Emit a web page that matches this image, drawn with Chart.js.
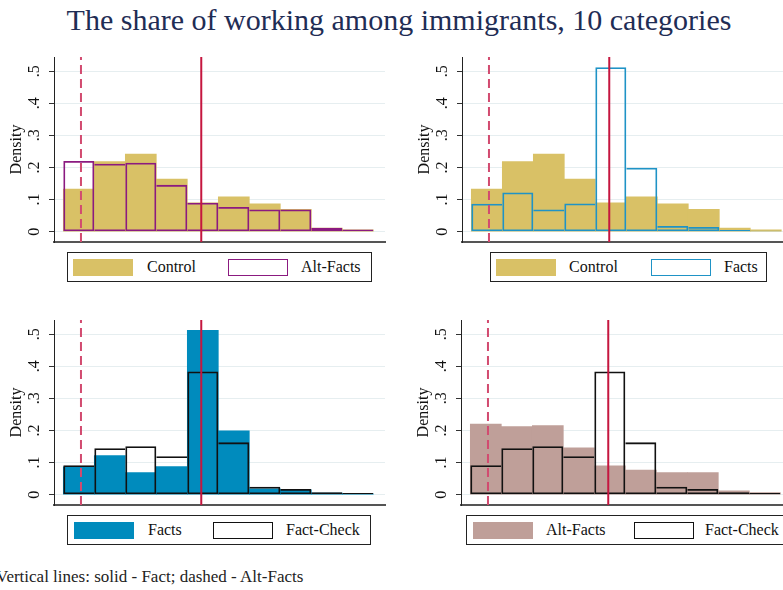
<!DOCTYPE html>
<html>
<head>
<meta charset="utf-8">
<script src="https://cdn.jsdelivr.net/npm/chart.js@4.4.0/dist/chart.umd.min.js"></script>
<style>
  body { margin: 0; width: 783px; height: 590px; overflow: hidden; background: #fff; position: relative;
         font-family: "Liberation Serif", "Times New Roman", serif; }
  canvas { position: absolute; }
  #title { position: absolute; top: 5px; left: 399px; transform: translateX(-50%); white-space: nowrap;
           font-size: 30px; line-height: 30px; color: #1f2d55; }
  .legend { position: absolute; height: 30px; border: 1px solid #222; box-sizing: border-box; background: #fff; }
  .legend .sw { position: absolute; top: 6px; width: 60px; height: 17px; box-sizing: border-box; }
  .legend .lb { position: absolute; top: 6px; font-size: 16px; line-height: 16px; color: #111; white-space: nowrap; }
  #note { position: absolute; left: -4px; top: 568px; font-size: 17px; line-height: 17px; color: #222; white-space: nowrap; }
</style>
</head>
<body>
<div id="title">The share of working among immigrants, 10 categories</div>
<canvas id="c0" width="390" height="196" style="left:0px;top:50px"></canvas>
<canvas id="c1" width="390" height="196" style="left:408px;top:50px"></canvas>
<canvas id="c2" width="390" height="196" style="left:0px;top:313px"></canvas>
<canvas id="c3" width="390" height="196" style="left:407px;top:313px"></canvas>
<div id="note">Vertical lines: solid - Fact; dashed - Alt-Facts</div>

<script>
// share of working, 10 bins (bin centres)
const binCenters = [0.05, 0.15, 0.25, 0.35, 0.45, 0.55, 0.65, 0.75, 0.85, 0.95];

const controlDensity   = [0.133, 0.218, 0.242, 0.164, 0.090, 0.109, 0.087, 0.070, 0.011, 0.006];
const altFactsDensity  = [0.220, 0.212, 0.215, 0.146, 0.090, 0.077, 0.069, 0.069, 0.012, 0.007];
const factsDensity     = [0.087, 0.122, 0.069, 0.088, 0.512, 0.199, 0.018, 0.015, 0.005, 0.003];
const factCheckDensity = [0.092, 0.145, 0.151, 0.120, 0.384, 0.163, 0.025, 0.018, 0.008, 0.005];

const yTicks = [0, 0.1, 0.2, 0.3, 0.4, 0.5];
const yTickLabels = ["0", ".1", ".2", ".3", ".4", ".5"];

const factLine = 0.445;
const altFactsLine = 0.057;

const FONT = "'Liberation Serif', 'Times New Roman', serif";

const colors = {
  control: "#d9c166",
  factsFill: "#008bbd",
  altFactsFill: "#bf9f99",
  altFactsLine: "#8b1a80",
  factsLine: "#1f93c6",
  factCheckLine: "#111111",
  fact: "#c5163f",
  alt: "#d24b70"
};

const panels = [
  { canvas: "c0", fill: controlDensity, fillColor: colors.control, outline: altFactsDensity, outlineColor: colors.altFactsLine,
    labels: ["Control", "Alt-Facts"], legend: { left: 67, top: 252, width: 305, pos: [5, 79, 160, 233] } },
  { canvas: "c1", fill: controlDensity, fillColor: colors.control, outline: factsDensity, outlineColor: colors.factsLine,
    labels: ["Control", "Facts"], legend: { left: 490, top: 252, width: 277, pos: [5, 78, 160, 233] } },
  { canvas: "c2", fill: factsDensity, fillColor: colors.factsFill, outline: factCheckDensity, outlineColor: colors.factCheckLine,
    labels: ["Facts", "Fact-Check"], legend: { left: 67, top: 515, width: 304, pos: [6, 80, 145, 218] } },
  { canvas: "c3", fill: altFactsDensity, fillColor: colors.altFactsFill, outline: factCheckDensity, outlineColor: colors.factCheckLine,
    labels: ["Alt-Facts", "Fact-Check"], legend: { left: 466, top: 515, width: 325, pos: [6, 79, 167, 238] } }
];

const Y_MIN = -0.032, Y_MAX = 0.544;
const X_MIN = -0.030, X_MAX = 1.0377;

function outlineWidth(c) {
  const w = 1.8;
  const d = c.dataset.data;
  const i = c.dataIndex;
  const v = d[i].y;
  const prev = i > 0 ? d[i - 1].y : -1;
  const next = i < d.length - 1 ? d[i + 1].y : -1;
  return { top: w, bottom: w, left: v > prev ? w : 0, right: v >= next ? w : 0 };
}

function vline(x, color, dash) {
  return {
    type: "line",
    data: [{ x: x, y: Y_MIN }, { x: x, y: Y_MAX }],
    borderColor: color,
    borderWidth: 2,
    borderDash: dash,
    pointRadius: 0,
    order: 0
  };
}

function drawPanel(p) {
  new Chart(document.getElementById(p.canvas), {
    type: "bar",
    data: {
      datasets: [
        {
          data: binCenters.map((x, i) => ({ x: x, y: p.outline[i] })),
          backgroundColor: "rgba(0,0,0,0)",
          borderColor: p.outlineColor,
          borderWidth: outlineWidth,
          borderSkipped: false,
          inflateAmount: 0,
          order: 1
        },
        {
          data: binCenters.map((x, i) => ({ x: x, y: p.fill[i] })),
          backgroundColor: p.fillColor,
          borderWidth: 0,
          order: 2
        },
        vline(factLine, colors.fact, []),
        vline(altFactsLine, colors.alt, [9, 5])
      ]
    },
    options: {
      responsive: false,
      animation: false,
      devicePixelRatio: 1,
      layout: { padding: { top: 7, right: 5, bottom: 4, left: 0 } },
      plugins: { legend: { display: false }, tooltip: { enabled: false } },
      datasets: { bar: { grouped: false, barPercentage: 1, categoryPercentage: 1 } },
      scales: {
        x: {
          type: "linear",
          offset: false,
          min: X_MIN, max: X_MAX,
          ticks: { display: false },
          grid: { display: false, offset: false },
          border: { display: true, color: "#555", width: 2 },
          afterFit: s => { s.height = 0; s.paddingLeft = 0; s.paddingRight = 0; }
        },
        y: {
          min: Y_MIN, max: Y_MAX,
          afterBuildTicks: s => { s.ticks = yTicks.map(v => ({ value: v })); },
          afterFit: s => { s.width = 54; s.paddingTop = 0; s.paddingBottom = 0; },
          ticks: {
            callback: (v, i) => yTickLabels[i],
            minRotation: 90, maxRotation: 90,
            crossAlign: "center",
            padding: 8,
            color: "#111",
            font: { family: FONT, size: 16 }
          },
          grid: { color: "#e6eef0", lineWidth: 1, tickLength: 5, tickColor: "#333", tickWidth: 1 },
          border: { display: true, color: "#222", width: 1 },
          title: { display: true, text: "Density", color: "#111", font: { family: FONT, size: 16 }, padding: { top: 7, bottom: 0 } }
        }
      }
    }
  });

  // legend box
  const lg = document.createElement("div");
  lg.className = "legend";
  lg.style.left = p.legend.left + "px";
  lg.style.top = p.legend.top + "px";
  lg.style.width = p.legend.width + "px";
  const sw1 = document.createElement("div");
  sw1.className = "sw";
  sw1.style.left = p.legend.pos[0] + "px";
  sw1.style.background = p.fillColor;
  const lb1 = document.createElement("div");
  lb1.className = "lb";
  lb1.style.left = p.legend.pos[1] + "px";
  lb1.textContent = p.labels[0];
  const sw2 = document.createElement("div");
  sw2.className = "sw";
  sw2.style.left = p.legend.pos[2] + "px";
  sw2.style.border = "1.8px solid " + p.outlineColor;
  const lb2 = document.createElement("div");
  lb2.className = "lb";
  lb2.style.left = p.legend.pos[3] + "px";
  lb2.textContent = p.labels[1];
  lg.append(sw1, lb1, sw2, lb2);
  document.body.appendChild(lg);
}

panels.forEach(drawPanel);
</script>
</body>
</html>
